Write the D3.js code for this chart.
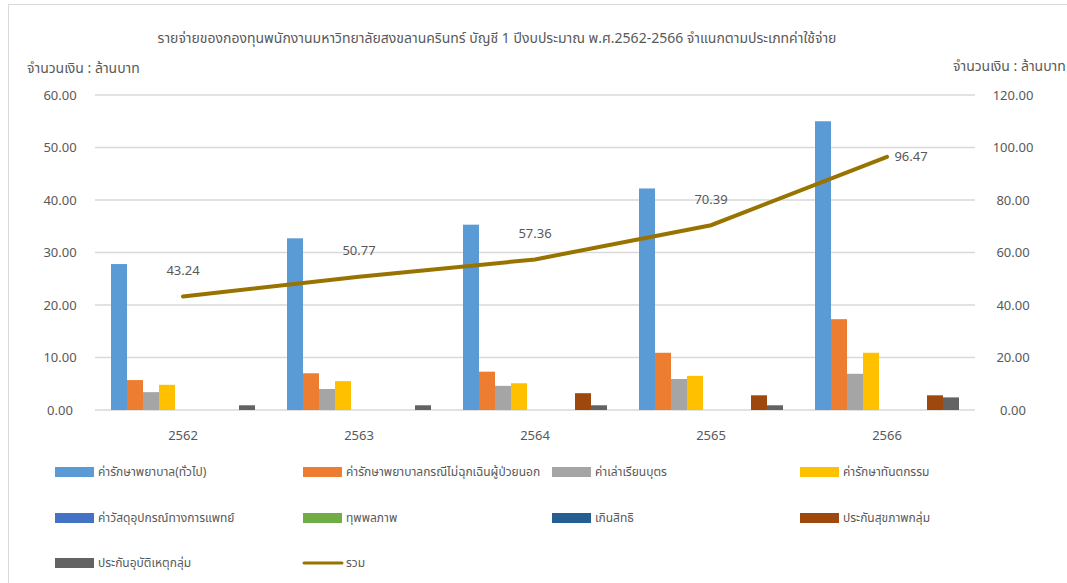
<!DOCTYPE html>
<html>
<head>
<meta charset="utf-8">
<script src="https://cdn.jsdelivr.net/npm/d3@7"></script>
<style>
  body { margin: 0; background: #fff; }
  svg text { font-family: "Noto Sans Thai", "Noto Sans", "DejaVu Sans", sans-serif; fill: #595959; }
</style>
</head>
<body>
<svg id="chart" width="1067" height="583"></svg>
<script>
// years (พ.ศ.)
const years = ["2562", "2563", "2564", "2565", "2566"];

// expense categories, in legend order
const seriesNames = [
  "ค่ารักษาพยาบาล(ทั่วไป)",
  "ค่ารักษาพยาบาลกรณีไม่ฉุกเฉินผู้ป่วยนอก",
  "ค่าเล่าเรียนบุตร",
  "ค่ารักษาทันตกรรม",
  "ค่าวัสดุอุปกรณ์ทางการแพทย์",
  "ทุพพลภาพ",
  "เกินสิทธิ",
  "ประกันสุขภาพกลุ่ม",
  "ประกันอุบัติเหตุกลุ่ม"
];

// values in million baht, one array per category
const general     = [27.8, 32.7, 35.3, 42.2, 55.0];
const nonEmergOPD = [5.7, 7.0, 7.3, 10.9, 17.3];
const tuition     = [3.4, 4.0, 4.6, 5.9, 6.9];
const dental      = [4.8, 5.5, 5.1, 6.5, 10.9];
const medSupplies = [0, 0, 0, 0, 0];
const disability  = [0, 0, 0, 0, 0];
const overLimit   = [0, 0, 0, 0, 0];
const groupHealth = [0, 0, 3.2, 2.8, 2.8];
const groupAccid  = [0.9, 0.9, 0.9, 0.9, 2.4];

// total (right axis)
const totalName = "รวม";
const totals = [43.24, 50.77, 57.36, 70.39, 96.47];

const leftTicks = [0, 10, 20, 30, 40, 50, 60];
const rightTicks = [0, 20, 40, 60, 80, 100, 120];

const colors = ["#5B9BD5", "#ED7D31", "#A5A5A5", "#FFC000", "#4472C4",
                "#70AD47", "#255E91", "#9E480E", "#636363"];
const lineColor = "#997300";

const seriesValues = [general, nonEmergOPD, tuition, dental, medSupplies,
                      disability, overLimit, groupHealth, groupAccid];

const rows = years.map((y, i) => {
  const r = {year: y, total: totals[i]};
  seriesNames.forEach((s, j) => r[s] = seriesValues[j][i]);
  return r;
});

const svg = d3.select("#chart");

// chart frame
svg.append("rect")
  .attr("x", 8.5).attr("y", 4.5)
  .attr("width", 1080).attr("height", 600)
  .attr("fill", "none").attr("stroke", "#d9d9d9");

const plotLeft = 95, plotRight = 975, plotTop = 95, plotBottom = 410;

const sx = d3.scaleBand().domain(years).range([plotLeft, plotRight]);
const sxInner = d3.scaleBand().domain(seriesNames)
  .range([0, sx.bandwidth()]).paddingInner(0).paddingOuter(1);
const sy = d3.scaleLinear().domain([0, 60]).range([plotBottom, plotTop]);
const sy2 = d3.scaleLinear().domain([0, 120]).range([plotBottom, plotTop]);

// gridlines
svg.append("g")
  .selectAll("line")
  .data(leftTicks)
  .join("line")
  .attr("x1", plotLeft).attr("x2", plotRight)
  .attr("y1", d => sy(d)).attr("y2", d => sy(d))
  .attr("stroke", "#d9d9d9").attr("stroke-width", 1.3);

// left axis
const yAxis = d3.axisLeft(sy).tickValues(leftTicks)
  .tickFormat(d3.format(".2f")).tickSize(0).tickPadding(0);
const gy = svg.append("g").attr("transform", "translate(60,0)").call(yAxis);
gy.select(".domain").remove();
gy.selectAll("text").attr("text-anchor", "middle").attr("font-size", 13)
  .attr("fill", "#595959").attr("font-family", null);

// right axis
const yAxis2 = d3.axisRight(sy2).tickValues(rightTicks)
  .tickFormat(d3.format(".2f")).tickSize(0).tickPadding(0);
const gy2 = svg.append("g").attr("transform", "translate(1013,0)").call(yAxis2);
gy2.select(".domain").remove();
gy2.selectAll("text").attr("text-anchor", "middle").attr("font-size", 13)
  .attr("fill", "#595959").attr("font-family", null);

// x axis labels
const xAxis = d3.axisBottom(sx).tickSize(0).tickPadding(21);
const gx = svg.append("g").attr("transform", `translate(0,${plotBottom})`).call(xAxis);
gx.select(".domain").remove();
gx.selectAll("text").attr("font-size", 13).attr("fill", "#595959").attr("font-family", null);

// bars
const groups = svg.append("g")
  .selectAll("g")
  .data(rows)
  .join("g")
  .attr("transform", d => `translate(${sx(d.year)},0)`);

groups.selectAll("rect")
  .data(d => seriesNames.map((s, j) => ({key: s, value: d[s], c: colors[j]})))
  .join("rect")
  .attr("x", d => sxInner(d.key))
  .attr("width", sxInner.bandwidth())
  .attr("y", d => sy(d.value))
  .attr("height", d => plotBottom - sy(d.value))
  .attr("fill", d => d.c);

// total line
const line = d3.line()
  .x((d, i) => sx(years[i]) + sx.bandwidth() / 2)
  .y(d => sy2(d));

svg.append("path")
  .datum(totals)
  .attr("d", line)
  .attr("fill", "none")
  .attr("stroke", lineColor)
  .attr("stroke-width", 4)
  .attr("stroke-linecap", "round");

svg.append("g")
  .selectAll("text")
  .data(totals)
  .join("text")
  .attr("x", (d, i) => sx(years[i]) + sx.bandwidth() / 2 + (i === totals.length - 1 ? 24 : 0))
  .attr("y", (d, i) => sy2(d) + (i === totals.length - 1 ? 0 : -26))
  .attr("dy", "0.35em")
  .attr("text-anchor", "middle")
  .attr("font-size", 13)
  .text(d => d3.format(".2f")(d));

// title + unit labels
svg.append("text")
  .attr("x", 497).attr("y", 38)
  .attr("dy", "0.35em")
  .attr("text-anchor", "middle")
  .attr("font-size", 14)
  .text("รายจ่ายของกองทุนพนักงานมหาวิทยาลัยสงขลานครินทร์ บัญชี 1 ปีงบประมาณ พ.ศ.2562-2566 จำแนกตามประเภทค่าใช้จ่าย");

svg.append("text")
  .attr("x", 27).attr("y", 68).attr("dy", "0.35em")
  .attr("font-size", 14)
  .text("จำนวนเงิน : ล้านบาท");

svg.append("text")
  .attr("x", 953).attr("y", 66).attr("dy", "0.35em")
  .attr("font-size", 14)
  .text("จำนวนเงิน : ล้านบาท");

// legend
const legendCols = [55, 303, 552, 800];
const legendRows = [472, 518, 563];
const legendItems = seriesNames.map((s, j) => ({name: s, color: colors[j], type: "bar"}))
  .concat([{name: totalName, color: lineColor, type: "line"}]);

const lg = svg.append("g")
  .selectAll("g")
  .data(legendItems)
  .join("g")
  .attr("transform", (d, i) => `translate(${legendCols[i % 4]},${legendRows[Math.floor(i / 4)]})`);

lg.filter(d => d.type === "bar").append("rect")
  .attr("x", 0).attr("y", -5).attr("width", 39).attr("height", 10)
  .attr("fill", d => d.color);

lg.filter(d => d.type === "line").append("line")
  .attr("x1", 1).attr("x2", 39).attr("y1", 0).attr("y2", 0)
  .attr("stroke", d => d.color).attr("stroke-width", 3)
  .attr("stroke-linecap", "round");

lg.append("text")
  .attr("x", 43).attr("y", 0).attr("dy", "0.35em")
  .attr("font-size", 12)
  .text(d => d.name);
</script>
</body>
</html>
